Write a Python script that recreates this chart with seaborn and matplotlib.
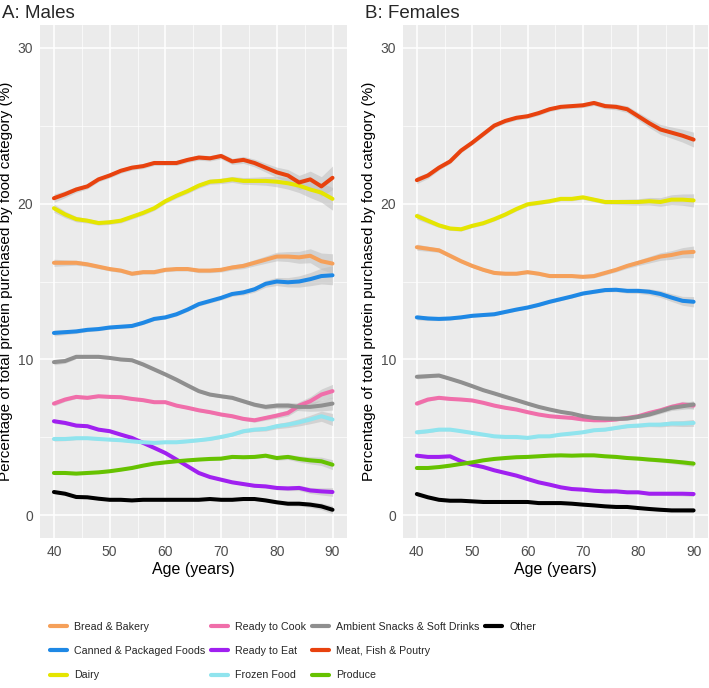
import numpy as np
import pandas as pd
import matplotlib
matplotlib.use('Agg')
import matplotlib.pyplot as plt
import seaborn as sns

ages = list(range(40, 91, 2))

categories = ['Bread & Bakery', 'Canned & Packaged Foods', 'Dairy',
              'Ready to Cook', 'Ready to Eat', 'Frozen Food',
              'Ambient Snacks & Soft Drinks', 'Meat, Fish & Poutry', 'Produce',
              'Other']
colors = ['#F5A05A', '#1E88E5', '#E5E500',
          '#F06EAA', '#A020F0', '#90E4EE',
          '#8F8F8F', '#E8420E', '#66C200',
          '#000000']

# Males
m_bread = [16.2, 16.2, 16.2, 16.1, 15.95, 15.8, 15.7, 15.5, 15.6, 15.6, 15.75, 15.8, 15.8,
           15.7, 15.7, 15.75, 15.9, 16.0, 16.2, 16.4, 16.6, 16.6, 16.55, 16.65, 16.3, 16.15]
m_canned = [11.7, 11.75, 11.8, 11.9, 11.95, 12.05, 12.1, 12.15, 12.35, 12.6, 12.7, 12.9, 13.2,
            13.55, 13.75, 13.95, 14.2, 14.3, 14.5, 14.85, 15.0, 14.95, 15.0, 15.15, 15.35, 15.4]
m_dairy = [19.7, 19.3, 19.0, 18.9, 18.75, 18.8, 18.9, 19.15, 19.4, 19.7, 20.15, 20.5, 20.8,
           21.15, 21.4, 21.45, 21.55, 21.45, 21.45, 21.45, 21.4, 21.3, 21.15, 20.9, 20.7, 20.3]
m_cook = [7.17, 7.43, 7.6, 7.54, 7.64, 7.6, 7.58, 7.47, 7.39, 7.26, 7.26, 7.04, 6.9,
          6.74, 6.62, 6.47, 6.36, 6.19, 6.1, 6.25, 6.4, 6.57, 7.04, 7.32, 7.75, 7.97]
m_eat = [6.04, 5.93, 5.76, 5.72, 5.5, 5.4, 5.18, 4.97, 4.65, 4.33, 4.0, 3.58, 3.15,
         2.72, 2.46, 2.29, 2.12, 2.01, 1.9, 1.86, 1.76, 1.73, 1.76, 1.6, 1.54, 1.5]
m_frozen = [4.9, 4.9, 4.95, 4.95, 4.9, 4.86, 4.82, 4.75, 4.69, 4.65, 4.69, 4.69, 4.75,
            4.82, 4.9, 5.03, 5.18, 5.4, 5.5, 5.55, 5.72, 5.82, 5.97, 6.15, 6.36, 6.15]
m_ambient = [9.83, 9.9, 10.17, 10.17, 10.17, 10.1, 10.0, 9.95, 9.68, 9.36, 9.04, 8.7, 8.33,
             7.97, 7.75, 7.64, 7.54, 7.32, 7.1, 6.96, 7.04, 7.04, 6.96, 6.96, 7.04, 7.17]
m_meat = [20.34, 20.6, 20.9, 21.1, 21.55, 21.8, 22.1, 22.3, 22.4, 22.6, 22.6, 22.6, 22.8,
          22.95, 22.9, 23.05, 22.7, 22.8, 22.6, 22.3, 22.0, 21.8, 21.35, 21.55, 21.1, 21.65]
m_produce = [2.72, 2.72, 2.68, 2.72, 2.76, 2.83, 2.93, 3.04, 3.19, 3.32, 3.4, 3.47, 3.53,
             3.58, 3.62, 3.64, 3.75, 3.73, 3.75, 3.83, 3.68, 3.75, 3.62, 3.53, 3.47, 3.25]
m_other = [1.5, 1.39, 1.18, 1.16, 1.07, 1.0, 1.0, 0.96, 1.0, 1.0, 1.0, 1.0, 1.0,
           1.0, 1.05, 1.0, 1.0, 1.05, 1.05, 0.96, 0.84, 0.75, 0.75, 0.69, 0.58, 0.36]

# Females
f_bread = [17.2, 17.1, 17.0, 16.65, 16.3, 16.0, 15.75, 15.55, 15.5, 15.5, 15.6, 15.5, 15.35,
           15.35, 15.35, 15.3, 15.35, 15.55, 15.75, 16.0, 16.2, 16.4, 16.6, 16.7, 16.85, 16.9]
f_canned = [12.7, 12.63, 12.6, 12.63, 12.7, 12.8, 12.85, 12.9, 13.05, 13.2, 13.33, 13.5, 13.7,
            13.87, 14.04, 14.23, 14.34, 14.45, 14.47, 14.4, 14.4, 14.34, 14.2, 13.97, 13.76, 13.7]
f_dairy = [19.2, 18.9, 18.6, 18.4, 18.35, 18.57, 18.74, 19.0, 19.3, 19.65, 19.95, 20.05, 20.15,
           20.3, 20.3, 20.4, 20.25, 20.1, 20.1, 20.1, 20.1, 20.15, 20.1, 20.25, 20.25, 20.2]
f_cook = [7.17, 7.43, 7.54, 7.47, 7.43, 7.37, 7.22, 7.04, 6.9, 6.79, 6.62, 6.47, 6.36,
          6.3, 6.25, 6.15, 6.1, 6.1, 6.15, 6.25, 6.36, 6.57, 6.74, 6.96, 7.11, 7.04]
f_eat = [3.83, 3.75, 3.75, 3.79, 3.47, 3.25, 3.1, 2.89, 2.72, 2.55, 2.33, 2.12, 1.97,
         1.8, 1.69, 1.65, 1.58, 1.54, 1.54, 1.48, 1.48, 1.39, 1.39, 1.39, 1.39, 1.37]
f_frozen = [5.33, 5.4, 5.5, 5.5, 5.4, 5.29, 5.18, 5.07, 5.03, 5.03, 4.97, 5.07, 5.07,
            5.18, 5.25, 5.33, 5.46, 5.5, 5.61, 5.72, 5.76, 5.82, 5.82, 5.89, 5.89, 5.93]
f_ambient = [8.89, 8.93, 8.97, 8.76, 8.54, 8.29, 8.03, 7.82, 7.6, 7.39, 7.17, 6.96, 6.79,
             6.64, 6.53, 6.36, 6.25, 6.21, 6.19, 6.21, 6.32, 6.47, 6.68, 6.9, 7.0, 7.11]
f_meat = [21.5, 21.8, 22.3, 22.7, 23.4, 23.9, 24.45, 25.0, 25.3, 25.5, 25.6, 25.8, 26.05,
          26.2, 26.25, 26.3, 26.45, 26.25, 26.2, 26.05, 25.6, 25.15, 24.75, 24.55, 24.35, 24.1]
f_produce = [3.04, 3.04, 3.1, 3.19, 3.3, 3.4, 3.53, 3.62, 3.68, 3.73, 3.75, 3.79, 3.83,
             3.85, 3.83, 3.85, 3.85, 3.79, 3.75, 3.68, 3.64, 3.58, 3.53, 3.47, 3.4, 3.32]
f_other = [1.37, 1.16, 1.0, 0.94, 0.94, 0.9, 0.86, 0.86, 0.86, 0.86, 0.86, 0.79, 0.79,
           0.79, 0.75, 0.69, 0.64, 0.58, 0.54, 0.54, 0.47, 0.41, 0.36, 0.32, 0.32, 0.32]

# ribbon half-widths (confidence band) by age
m_band = [0.22, 0.18, 0.15, 0.13, 0.12, 0.12, 0.12, 0.12, 0.12, 0.12, 0.12, 0.12, 0.12,
          0.13, 0.13, 0.14, 0.15, 0.17, 0.19, 0.22, 0.26, 0.3, 0.36, 0.42, 0.5, 0.6]
f_band = [0.18, 0.15, 0.12, 0.11, 0.1, 0.1, 0.1, 0.1, 0.1, 0.1, 0.1, 0.1, 0.1,
          0.1, 0.1, 0.1, 0.11, 0.12, 0.13, 0.15, 0.17, 0.2, 0.23, 0.26, 0.3, 0.35]

males = [m_bread, m_canned, m_dairy, m_cook, m_eat, m_frozen, m_ambient, m_meat, m_produce, m_other]
females = [f_bread, f_canned, f_dairy, f_cook, f_eat, f_frozen, f_ambient, f_meat, f_produce, f_other]


def to_long(series):
    rows = []
    for cat, vals in zip(categories, series):
        for a, v in zip(ages, vals):
            rows.append((a, v, cat))
    return pd.DataFrame(rows, columns=['age', 'pct', 'category'])


sns.set_theme(style='darkgrid', rc={
    'axes.facecolor': '#EBEBEB',
    'grid.color': 'white',
    'axes.edgecolor': '#EBEBEB',
    'xtick.color': '#333333',
    'ytick.color': '#333333',
})
plt.rcParams['font.family'] = ['Liberation Sans', 'DejaVu Sans']

fig = plt.figure(figsize=(7.09, 6.88), dpi=100)
ax1 = fig.add_axes([40 / 709, 1 - 538 / 688, 307 / 709, 513 / 688])
ax2 = fig.add_axes([403 / 709, 1 - 538 / 688, 305 / 709, 513 / 688])

palette = dict(zip(categories, colors))

for ax, series, band in [(ax1, males, m_band), (ax2, females, f_band)]:
    for vals in series:
        v = np.array(vals)
        hw = np.array(band) * (0.4 + v / 25)
        ax.fill_between(ages, v - hw, v + hw, color='#BEBEBE', alpha=0.55, lw=0, zorder=2)
    df = to_long(series)
    sns.lineplot(data=df, x='age', y='pct', hue='category', palette=palette,
                 hue_order=categories, linewidth=2.9, ax=ax, legend=False, zorder=3)
    ax.set_xlim(37.5, 92.6)
    ax.set_ylim(-1.45, 31.45)
    ax.set_xticks([40, 50, 60, 70, 80, 90])
    ax.set_yticks([0, 10, 20, 30])
    ax.set_xticks([45, 55, 65, 75, 85], minor=True)
    ax.set_yticks([5, 15, 25], minor=True)
    ax.grid(which='major', color='white', linewidth=1.1)
    ax.grid(which='minor', color='white', linewidth=0.5)
    ax.tick_params(axis='both', which='major', length=3, width=0.8, color='#333333',
                   labelsize=10, labelcolor='#4D4D4D', pad=2)
    ax.tick_params(which='minor', length=0)
    ax.set_xlabel('Age (years)', fontsize=11.5, color='black', labelpad=2)
    ax.set_ylabel('Percentage of total protein purchased by food category (%)',
                  fontsize=11, color='black', labelpad=3)
    for s in ax.spines.values():
        s.set_visible(False)

fig.text(2 / 709, 1 - 14 / 688, 'A: Males', fontsize=13.5, va='center', ha='left')
fig.text(365 / 709, 1 - 14 / 688, 'B: Females', fontsize=13.5, va='center', ha='left')

# legend: 3 rows, filled by column; two blank slots after "Other"
handles = [plt.Line2D([], [], color=c, linewidth=3) for c in colors]
labels = list(categories)
handles += [plt.Line2D([], [], alpha=0)] * 2
labels += ['', '']
fig.legend(handles, labels, loc='center left', bbox_to_anchor=(40 / 709, 1 - 651 / 688),
           ncol=4, frameon=False, fontsize=7.7, handlelength=1.6, handletextpad=0.7,
           columnspacing=0.5, labelspacing=1.35)

fig.savefig('out.png', dpi=100)
